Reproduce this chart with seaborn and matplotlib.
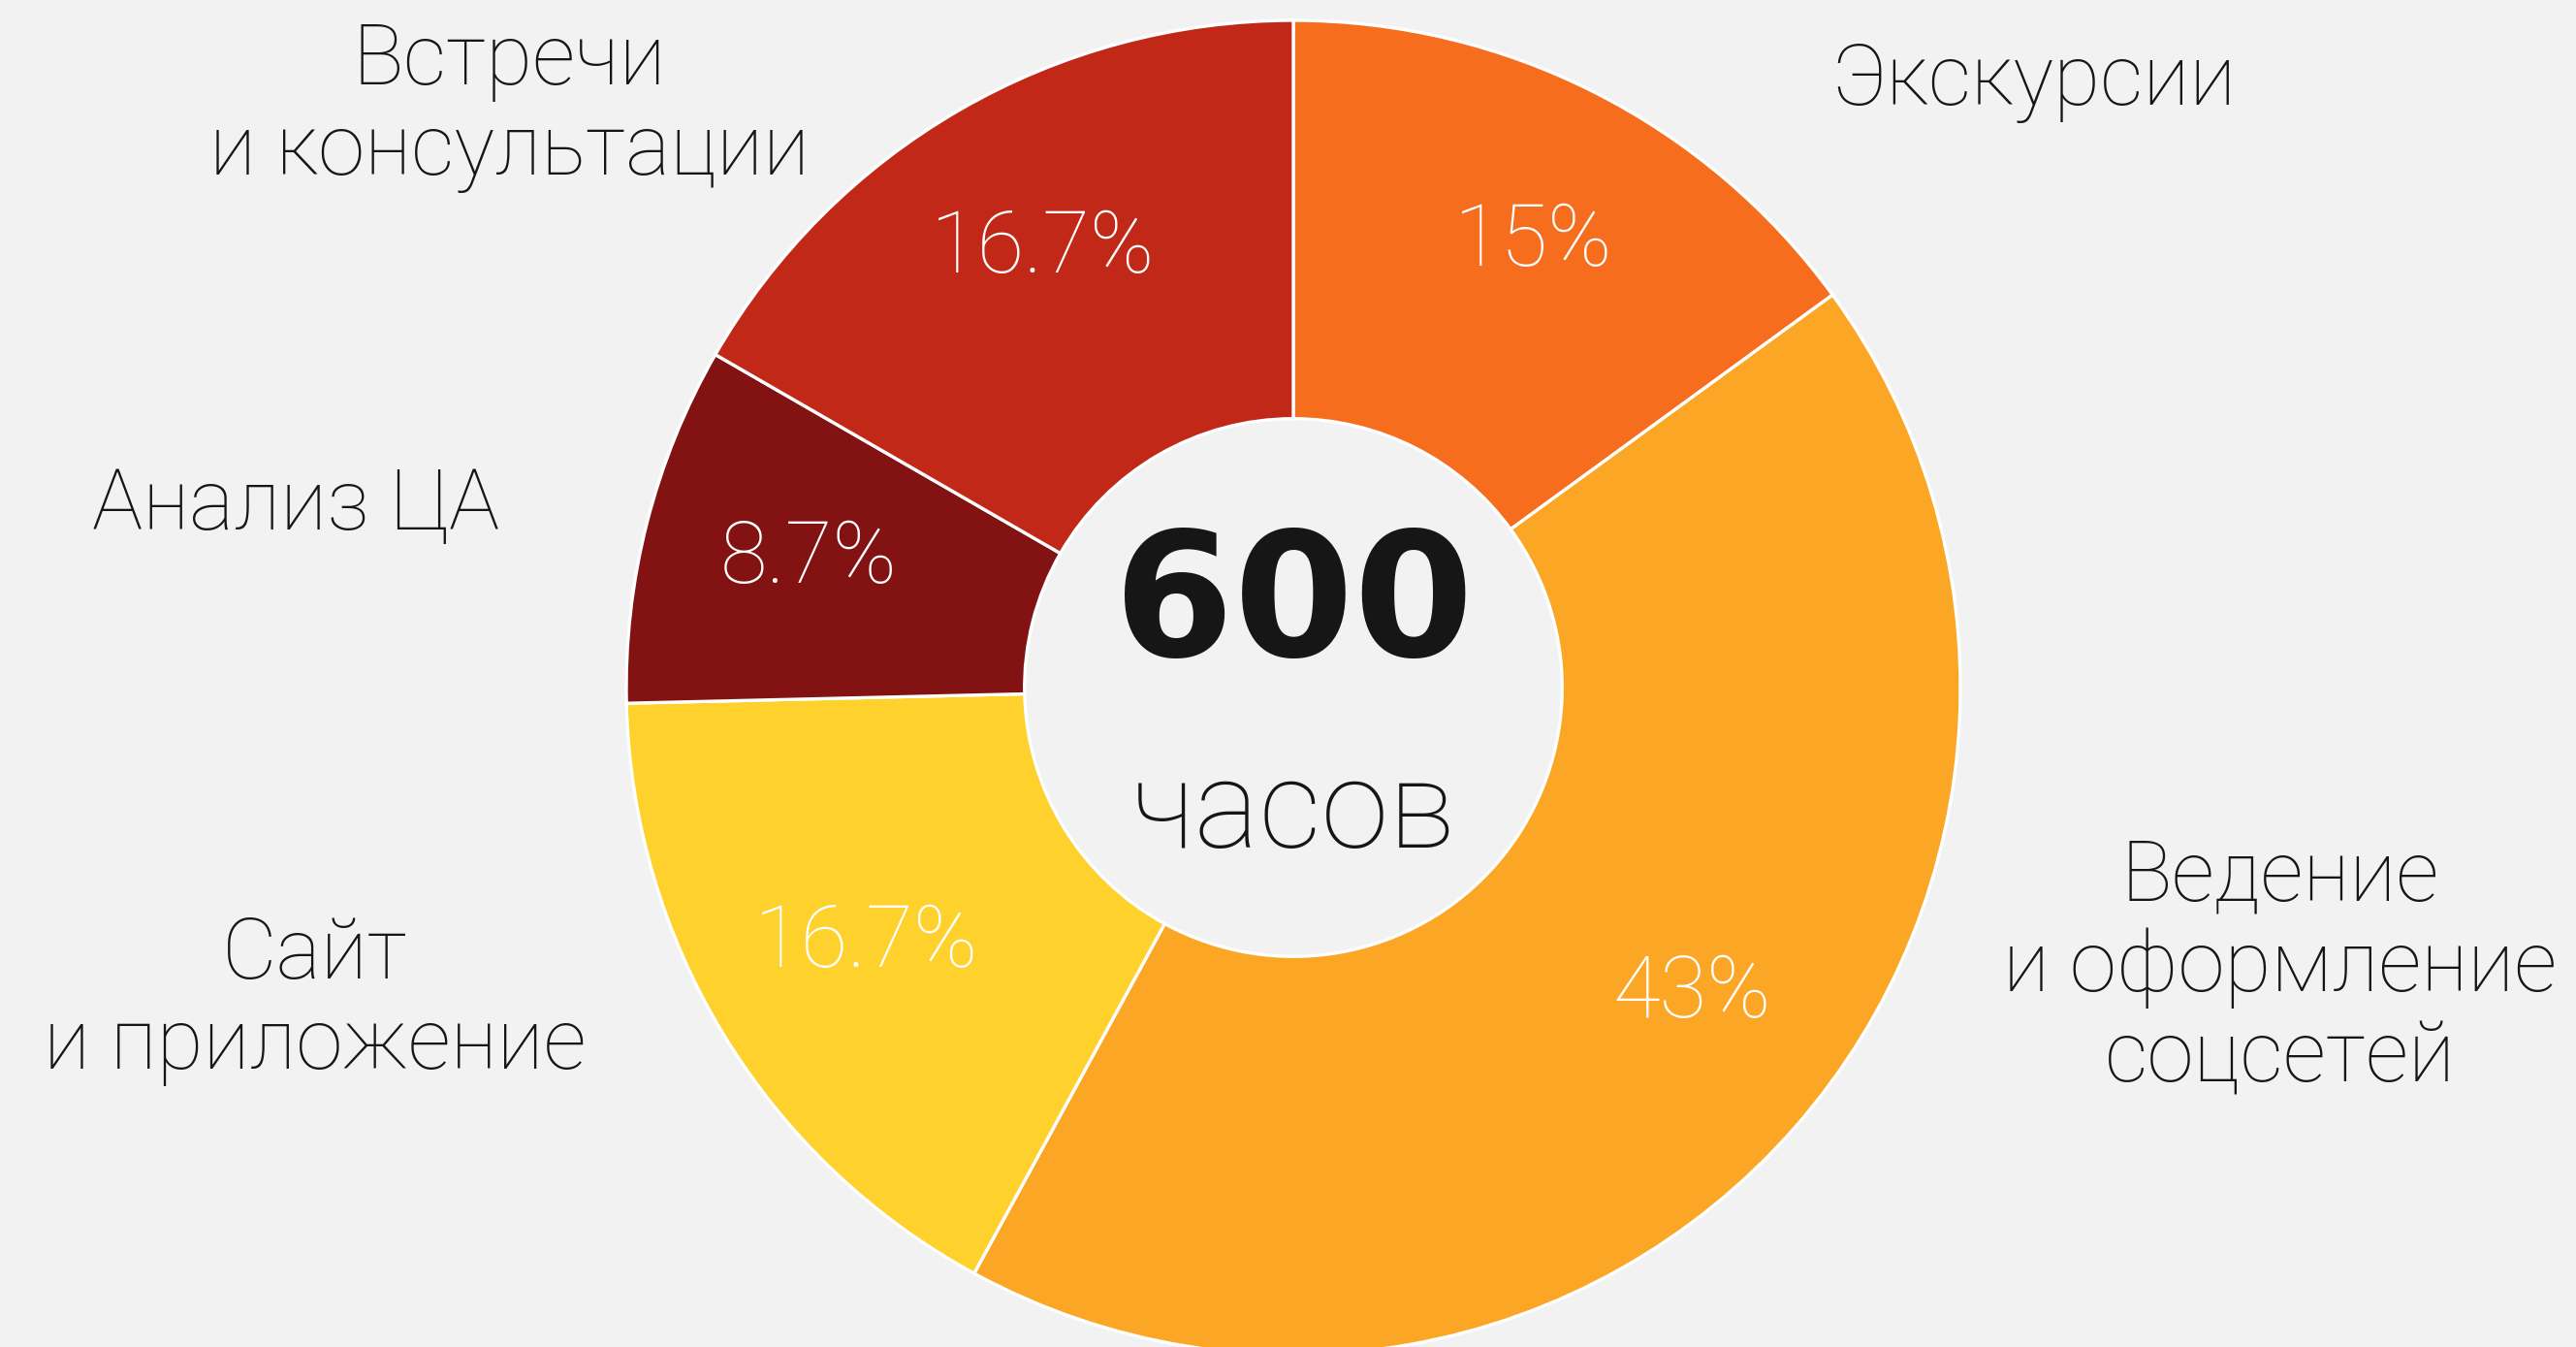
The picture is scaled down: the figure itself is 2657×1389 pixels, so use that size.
import matplotlib
matplotlib.use("Agg")
import matplotlib.pyplot as plt
import numpy as np
import seaborn as sns

# data
categories = ["Экскурсии", "Ведение\nи оформление\nсоцсетей", "Сайт\nи приложение",
              "Анализ ЦА", "Встречи\nи консультации"]
shares = [15, 43, 16.7, 8.7, 16.7]
pct_labels = ["15%", "43%", "16.7%", "8.7%", "16.7%"]
colors = ["#f76d1e", "#fca626", "#fed12d", "#831213", "#c12818"]
total_hours = "600"
total_unit = "часов"

sns.set_theme(style="white")
plt.rcParams["font.family"] = ["Roboto", "DejaVu Sans"]

W, H = 2657, 1389
fig = plt.figure(figsize=(W / 100, H / 100), dpi=100, facecolor="#f2f2f2")
ax = fig.add_axes([0, 0, 1, 1])
ax.set_facecolor("#f2f2f2")

cx, cy, R = 1334, 709, 688  # pixel centre and radius of the ring

pct_iter = iter(pct_labels)
wedges, texts, autotexts = ax.pie(
    shares, colors=colors, startangle=90, counterclock=False, radius=1,
    autopct=lambda p: next(pct_iter), pctdistance=0.75,
    wedgeprops=dict(width=0.597, edgecolor="white", linewidth=2.4),
    textprops=dict(color="white", fontsize=64, fontweight="light"),
)
for t in autotexts:
    x, y = t.get_position()
    t.set_position((x, y + 0.008))
# a couple of labels sit a bit off the wedge middle in the original
autotexts[0].set_position((0.36, 0.668))
autotexts[1].set_position((0.597, -0.458))

ax.set_xlim(-cx / R, (W - cx) / R)
ax.set_ylim(-(H - cy) / R, cy / R)
ax.axis("off")

# centre text
ax.text(0, 0.12, total_hours, ha="center", va="center", fontsize=128,
        fontweight="bold", family="DejaVu Sans", color="#161616")
ax.text(0, -0.19, total_unit, ha="center", va="center", fontsize=91,
        fontweight="light", color="#161616")

# outer labels, placed in pixel positions
label_pos = [(2098, 85), (2352, 998), (325, 1032), (305, 522), (525, 110)]
for name, (px, py) in zip(categories, label_pos):
    fig.text(px / W, 1 - py / H, name, ha="center", va="center", fontsize=63,
             fontweight="light", color="#161616", linespacing=1.15)

fig.savefig("out.png", dpi=100, facecolor=fig.get_facecolor())
